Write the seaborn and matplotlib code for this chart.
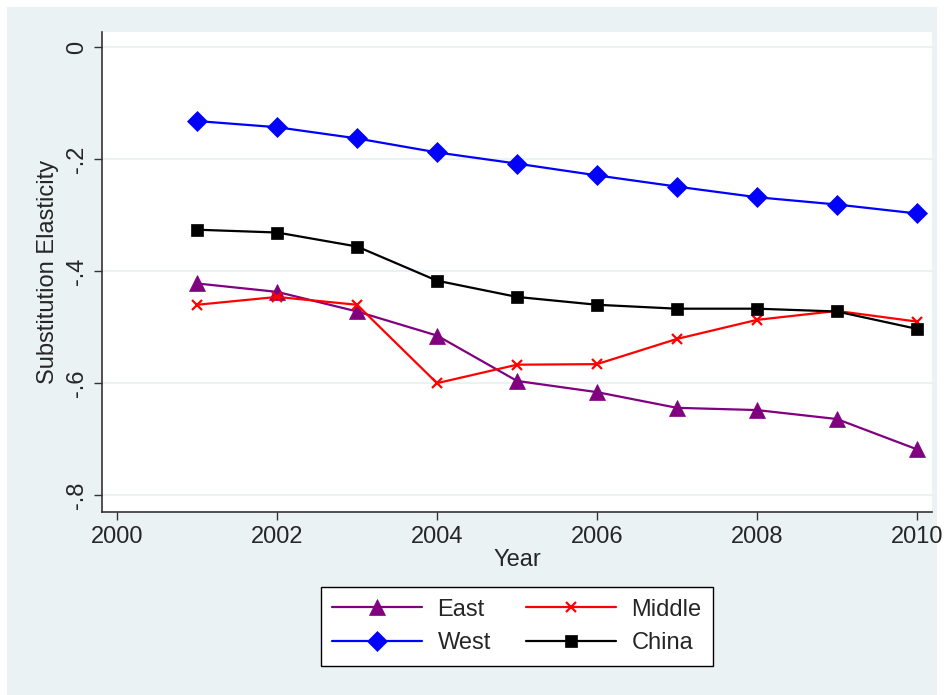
import matplotlib as mpl
mpl.use('Agg')
import matplotlib.pyplot as plt
from matplotlib.patches import Rectangle
import pandas as pd
import seaborn as sns

# data
years = [2001, 2002, 2003, 2004, 2005, 2006, 2007, 2008, 2009, 2010]
east = [-0.422, -0.437, -0.472, -0.515, -0.596, -0.616, -0.644, -0.648, -0.664, -0.718]
middle = [-0.460, -0.446, -0.460, -0.600, -0.567, -0.566, -0.521, -0.487, -0.471, -0.490]
west = [-0.132, -0.143, -0.163, -0.188, -0.208, -0.229, -0.249, -0.268, -0.281, -0.297]
china = [-0.326, -0.331, -0.356, -0.417, -0.446, -0.460, -0.467, -0.467, -0.472, -0.503]
x_ticks = [2000, 2002, 2004, 2006, 2008, 2010]
y_ticks = [0, -0.2, -0.4, -0.6, -0.8]
y_tick_labels = ['0', '-.2', '-.4', '-.6', '-.8']

sns.set_style("ticks")
plt.rcParams['font.family'] = ['Liberation Sans', 'DejaVu Sans']
fs = 17

bg = '#eaf2f3'
fig = plt.figure(figsize=(9.46, 6.95), dpi=100, facecolor='white')
# stata-style graph region with thin white margin top/left/right
fig.patches.append(Rectangle((7 / 946, 0), 930 / 946, 1 - 7 / 695,
                             transform=fig.transFigure, facecolor=bg,
                             edgecolor='none', zorder=-1))
ax = fig.add_axes([102 / 946, 1 - 512 / 695, 830 / 946, 480 / 695])
ax.set_facecolor('white')

series = {
    'East': (east, '#800080', '^', 11),
    'Middle': (middle, '#ff0000', 'x', 7),
    'West': (west, '#0000ff', 'D', 10),
    'China': (china, '#000000', 's', 9),
}

handles = {}
for name, (vals, col, mk, ms) in series.items():
    df = pd.DataFrame({'year': years, 'value': vals})
    sns.lineplot(data=df, x='year', y='value', ax=ax, color=col,
                 marker=mk, markersize=ms, markeredgecolor=col,
                 markeredgewidth=1.6 if mk == 'x' else 0.5,
                 linewidth=1.6, label=name, legend=False)
    handles[name] = ax.lines[-1]

ax.set_xlim(1999.81, 2010.19)
ax.set_ylim(-0.830, 0.027)
ax.set_xticks(x_ticks)
ax.set_yticks(y_ticks)
ax.set_yticklabels(y_tick_labels, rotation=90, va='center')
ax.tick_params(labelsize=fs, length=6, width=1, color='#333333', pad=4)
ax.grid(axis='y', color=bg, linewidth=1.5)
ax.set_axisbelow(True)
for s in ['top', 'right']:
    ax.spines[s].set_visible(False)
for s in ['left', 'bottom']:
    ax.spines[s].set_color('#333333')
    ax.spines[s].set_linewidth(1.2)

ax.set_xlabel('Year', fontsize=fs, labelpad=1)
ax.set_ylabel('Substitution Elasticity', fontsize=fs, labelpad=5)

order = ['East', 'West', 'Middle', 'China']
leg = ax.legend([handles[k] for k in order], order, ncol=2,
                loc='upper center', bbox_to_anchor=(0.5, -0.156),
                borderaxespad=0, fontsize=fs, frameon=True, fancybox=False,
                edgecolor='black', framealpha=1, handlelength=3.8,
                columnspacing=1.5, borderpad=0.5, labelspacing=0.5,
                handletextpad=0.65)
leg.get_frame().set_linewidth(1.0)

fig.savefig('out.png', dpi=100, facecolor=fig.get_facecolor())
